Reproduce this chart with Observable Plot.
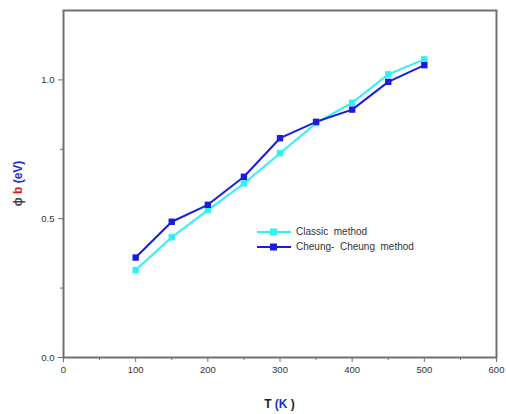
<!DOCTYPE html>
<html>
<head>
<meta charset="utf-8">
<script src="https://cdn.jsdelivr.net/npm/d3@7"></script>
<script src="https://cdn.jsdelivr.net/npm/@observablehq/plot@0.6"></script>
<style>
  html, body { margin: 0; padding: 0; background: #fff; }
  #wrap { position: relative; width: 506px; height: 414px; font-family: "Liberation Sans", Arial, sans-serif; }
  #legend { position: absolute; left: 255px; top: 224px; font-size: 10px; color: #333; line-height: 15px; }
  #legend div { display: flex; align-items: center; white-space: pre; }
  #legend svg { margin-right: 3px; }
</style>
</head>
<body>
<div id="wrap"></div>
<script>
const temperatures = [100, 150, 200, 250, 300, 350, 400, 450, 500];
const classicValues = [0.315, 0.433, 0.531, 0.627, 0.736, 0.844, 0.918, 1.020, 1.074];
const cheungValues = [0.360, 0.489, 0.550, 0.651, 0.790, 0.849, 0.893, 0.993, 1.053];
const seriesNames = ["Classic  method", "Cheung-  Cheung  method"];
const seriesColors = ["#2ff0f5", "#1c1ce0"];
const xMajorTicks = [0, 100, 200, 300, 400, 500, 600];
const xMinorTicks = [50, 150, 250, 350, 450, 550];
const yMajorTicks = [0, 0.5, 1.0];
const yMinorTicks = [0.25, 0.75];

const rows = [];
temperatures.forEach((t, i) => {
  rows.push({T: t, v: classicValues[i], s: seriesNames[0]});
  rows.push({T: t, v: cheungValues[i], s: seriesNames[1]});
});

const axisColor = "#707070";
const plot = Plot.plot({
  width: 506,
  height: 414,
  marginLeft: 63,
  marginRight: 10,
  marginTop: 10,
  marginBottom: 57,
  style: {fontFamily: "Liberation Sans, Arial, sans-serif", fontSize: "9.5px", color: "#333", background: "#fff"},
  x: {domain: [0, 600], label: null},
  y: {domain: [0, 1.25], label: null},
  color: {domain: seriesNames, range: seriesColors},
  marks: [
    Plot.frame({stroke: axisColor, strokeWidth: 2}),
    Plot.axisX({ticks: xMajorTicks, tickSize: 5, tickPadding: 4, stroke: axisColor, tickFormat: d => String(d), fill: "#333"}),
    Plot.axisX({ticks: xMinorTicks, tickSize: 3, tickFormat: () => "", stroke: axisColor}),
    Plot.axisY({ticks: yMajorTicks, tickSize: 5, tickPadding: 4, stroke: axisColor, tickFormat: d => d.toFixed(1), fill: "#333"}),
    Plot.axisY({ticks: yMinorTicks, tickSize: 3, tickFormat: () => "", stroke: axisColor}),
    Plot.line(rows, {x: "T", y: "v", z: "s", stroke: "s", strokeWidth: 2}),
    Plot.dot(rows, {x: "T", y: "v", fill: "s", symbol: "square", r: 3.6})
  ]
});

document.getElementById("wrap").appendChild(plot);

// axis titles with coloured parts
const xs = plot.scale("x"), ys = plot.scale("y");
const svg = d3.select(plot);
const xMid = (xs.range[0] + xs.range[1]) / 2;
const yMid = (ys.range[0] + ys.range[1]) / 2;
const xl = svg.append("text").attr("x", xMid).attr("y", 408).attr("text-anchor", "middle")
  .attr("font-size", 12).attr("font-weight", "bold").attr("fill", "#222");
xl.append("tspan").text("T ");
xl.append("tspan").attr("fill", "#1a2fd8").text("(K");
xl.append("tspan").text(" )");

const yl = svg.append("text").attr("transform", `translate(22,${yMid}) rotate(-90)`).attr("text-anchor", "middle")
  .attr("font-size", 12).attr("font-weight", "bold").attr("fill", "#444");
yl.append("tspan").text("ϕ ");
yl.append("tspan").attr("fill", "#e01a1a").text("b");
yl.append("tspan").text(" ");
yl.append("tspan").attr("fill", "#1a2fd8").text("(eV)");

// legend
const legend = document.createElement("div");
legend.id = "legend";
seriesNames.forEach((name, i) => {
  const row = document.createElement("div");
  row.innerHTML = `<svg width="38" height="10"><line x1="2" x2="36" y1="5" y2="5" stroke="${seriesColors[i]}" stroke-width="2"/><rect x="15" y="1.5" width="7" height="7" fill="${seriesColors[i]}"/></svg><span>${name}</span>`;
  legend.appendChild(row);
});
document.getElementById("wrap").appendChild(legend);
</script>
</body>
</html>
